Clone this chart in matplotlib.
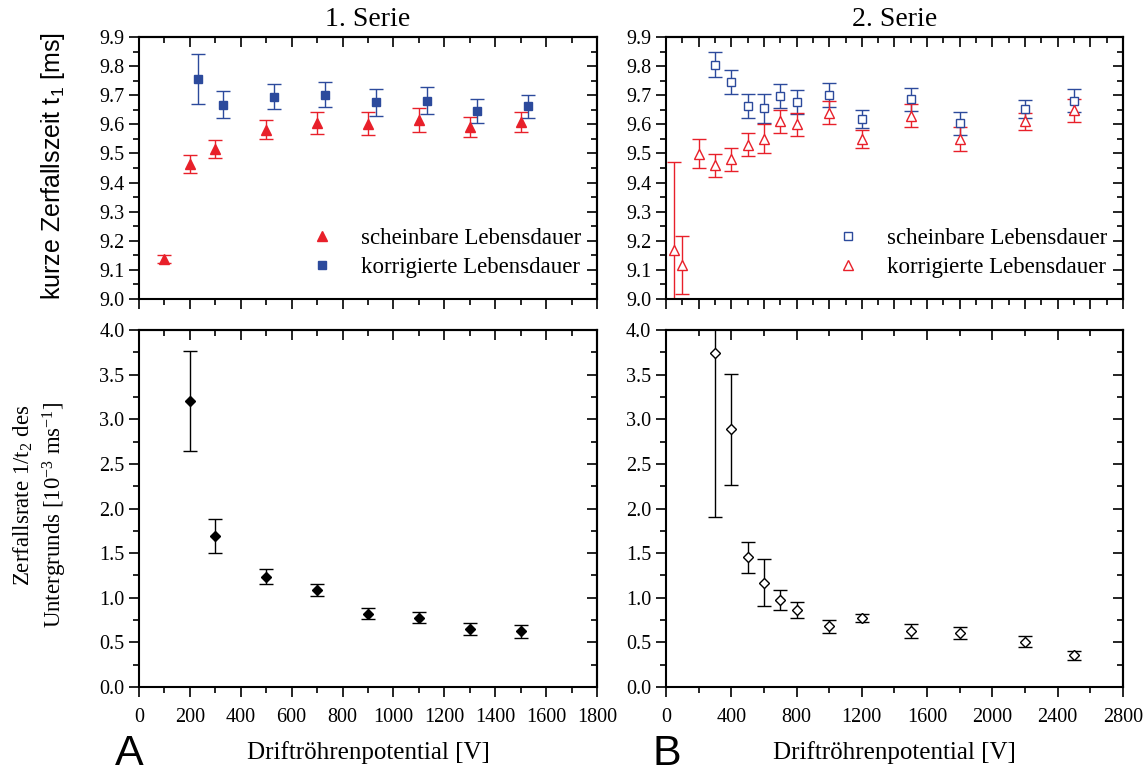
import matplotlib.pyplot as plt
from matplotlib.ticker import MultipleLocator
import numpy as np

plt.rcParams['font.family'] = ['Liberation Serif', 'DejaVu Serif']
plt.rcParams['mathtext.default'] = 'regular'

RED = '#e8202a'
BLUE = '#2c4a9c'

# 1. Serie, kurze Zerfallszeit
s1_x_schein = [100, 200, 300, 500, 700, 900, 1100, 1300, 1500]
s1_y_schein = [9.138, 9.464, 9.515, 9.582, 9.605, 9.602, 9.614, 9.590, 9.609]
s1_e_schein = [0.013, 0.030, 0.030, 0.034, 0.037, 0.040, 0.042, 0.034, 0.034]
s1_x_korr = [230, 330, 530, 730, 930, 1130, 1330, 1530]
s1_y_korr = [9.756, 9.668, 9.695, 9.702, 9.676, 9.681, 9.646, 9.662]
s1_e_korr = [0.085, 0.047, 0.042, 0.044, 0.047, 0.047, 0.040, 0.040]

# 2. Serie, kurze Zerfallszeit
s2_x_schein = [300, 400, 500, 600, 700, 800, 1000, 1200, 1500, 1800, 2200, 2500]
s2_y_schein = [9.805, 9.744, 9.662, 9.655, 9.698, 9.677, 9.700, 9.618, 9.686, 9.603, 9.654, 9.681]
s2_e_schein = [0.042, 0.041, 0.041, 0.050, 0.042, 0.040, 0.041, 0.031, 0.040, 0.041, 0.031, 0.040]
s2_x_korr = [50, 100, 200, 300, 400, 500, 600, 700, 800, 1000, 1200, 1500, 1800, 2200, 2500]
s2_y_korr = [9.169, 9.118, 9.499, 9.459, 9.480, 9.530, 9.550, 9.610, 9.600, 9.640, 9.550, 9.630, 9.550, 9.610, 9.648]
s2_e_korr = [0.300, 0.100, 0.050, 0.040, 0.040, 0.040, 0.050, 0.040, 0.040, 0.040, 0.030, 0.040, 0.040, 0.030, 0.040]

# Zerfallsrate des Untergrunds
s1_x_rate = [200, 300, 500, 700, 900, 1100, 1300, 1500]
s1_y_rate = [3.21, 1.69, 1.237, 1.084, 0.822, 0.778, 0.650, 0.624]
s1_e_rate = [0.56, 0.19, 0.087, 0.067, 0.060, 0.058, 0.067, 0.072]
s2_x_rate = [300, 400, 500, 600, 700, 800, 1000, 1200, 1500, 1800, 2200, 2500]
s2_y_rate = [3.742, 2.886, 1.454, 1.170, 0.976, 0.860, 0.680, 0.774, 0.628, 0.606, 0.508, 0.355]
s2_e_rate = [1.835, 0.625, 0.174, 0.264, 0.108, 0.088, 0.071, 0.047, 0.077, 0.071, 0.065, 0.050]

LABEL_SCHEIN = 'scheinbare Lebensdauer'
LABEL_KORR = 'korrigierte Lebensdauer'


def style_axes(ax, xmaj, xmin, ymaj, ymin, xlabels=True):
    for sp in ax.spines.values():
        sp.set_linewidth(1.5)
    ax.xaxis.set_major_locator(MultipleLocator(xmaj))
    ax.xaxis.set_minor_locator(MultipleLocator(xmin))
    ax.yaxis.set_major_locator(MultipleLocator(ymaj))
    ax.yaxis.set_minor_locator(MultipleLocator(ymin))
    ax.tick_params(which='both', direction='out', top=False, right=False,
                   width=1.2, labelsize=14.5)
    ax.tick_params(which='major', length=7)
    ax.tick_params(which='minor', length=4)
    ax.tick_params(axis='x', pad=8)
    if not xlabels:
        ax.tick_params(labelbottom=False)
    top = ax.secondary_xaxis('top')
    top.xaxis.set_major_locator(MultipleLocator(xmaj))
    top.xaxis.set_minor_locator(MultipleLocator(xmin))
    top.tick_params(which='both', direction='in', labeltop=False, width=1.2)
    top.tick_params(which='major', length=7)
    top.tick_params(which='minor', length=4)
    right = ax.secondary_yaxis('right')
    right.yaxis.set_major_locator(MultipleLocator(ymaj))
    right.yaxis.set_minor_locator(MultipleLocator(ymin))
    right.tick_params(which='both', direction='in', labelright=False, width=1.2)
    right.tick_params(which='major', length=7)
    right.tick_params(which='minor', length=4)
    top.spines['top'].set_linewidth(1.5)
    right.spines['right'].set_linewidth(1.5)


def ebar(ax, x, y, e, color, marker, ms, filled):
    c = ax.errorbar(x, y, yerr=e, fmt=marker, color=color, ms=ms,
                    mfc=color if filled else 'white', mec=color, mew=1.0,
                    elinewidth=1.0, capsize=5, capthick=1.0)
    return c[0]


def add_legend(ax, handles, labels):
    ax.legend(handles, labels, loc='lower right', bbox_to_anchor=(1.01, 0.0),
              frameon=False, fontsize=16.5, handlelength=1.2, handletextpad=1.1,
              labelspacing=0.35)


fig = plt.figure(figsize=(11.47, 7.74), dpi=100)

ax1 = fig.add_axes([0.1212, 0.6137, 0.3993, 0.3385])
ax2 = fig.add_axes([0.5806, 0.6137, 0.3985, 0.3385])
ax3 = fig.add_axes([0.1212, 0.1124, 0.3993, 0.4612])
ax4 = fig.add_axes([0.5806, 0.1124, 0.3985, 0.4612])

h1 = ebar(ax1, s1_x_schein, s1_y_schein, s1_e_schein, RED, '^', 7, True)
h2 = ebar(ax1, s1_x_korr, s1_y_korr, s1_e_korr, BLUE, 's', 6, True)
ax1.set_xlim(0, 1800)
ax1.set_ylim(9.0, 9.9)
style_axes(ax1, 200, 100, 0.1, 0.05, xlabels=False)
add_legend(ax1, [h1, h2], [LABEL_SCHEIN, LABEL_KORR])
ax1.set_title('1. Serie', fontsize=20, pad=8)

h3 = ebar(ax2, s2_x_schein, s2_y_schein, s2_e_schein, BLUE, 's', 6, False)
h4 = ebar(ax2, s2_x_korr, s2_y_korr, s2_e_korr, RED, '^', 7, False)
ax2.set_xlim(0, 2800)
ax2.set_ylim(9.0, 9.9)
style_axes(ax2, 200, 100, 0.1, 0.05, xlabels=False)
add_legend(ax2, [h3, h4], [LABEL_SCHEIN, LABEL_KORR])
ax2.set_title('2. Serie', fontsize=20, pad=8)

ebar(ax3, s1_x_rate, s1_y_rate, s1_e_rate, 'black', 'D', 5.5, True)
ax3.set_xlim(0, 1800)
ax3.set_ylim(0, 4.0)
style_axes(ax3, 200, 100, 0.5, 0.25)
ax3.set_xlabel('Driftröhrenpotential [V]', fontsize=18, labelpad=10)

ebar(ax4, s2_x_rate, s2_y_rate, s2_e_rate, 'black', 'D', 5.5, False)
ax4.set_xlim(0, 2800)
ax4.set_ylim(0, 4.0)
style_axes(ax4, 400, 200, 0.5, 0.25)
ax4.set_xlabel('Driftröhrenpotential [V]', fontsize=18, labelpad=10)

sans = ['Liberation Sans Narrow', 'Liberation Sans']
fig.text(0.046, 0.7855, 'kurze Zerfallszeit t$_1$ [ms]', rotation=90,
         ha='center', va='center', fontsize=18, family=sans)
fig.text(0.020, 0.360, 'Zerfallsrate 1/t$_2$ des', rotation=90,
         ha='center', va='center', fontsize=16.5)
fig.text(0.048, 0.335, 'Untergrunds [10$^{-3}$ ms$^{-1}$]', rotation=90,
         ha='center', va='center', fontsize=16.5)
fig.text(0.100, 0.026, 'A', fontsize=31, family=sans, va='center')
fig.text(0.569, 0.026, 'B', fontsize=31, family=sans, va='center')

fig.savefig('out.png', dpi=100)
